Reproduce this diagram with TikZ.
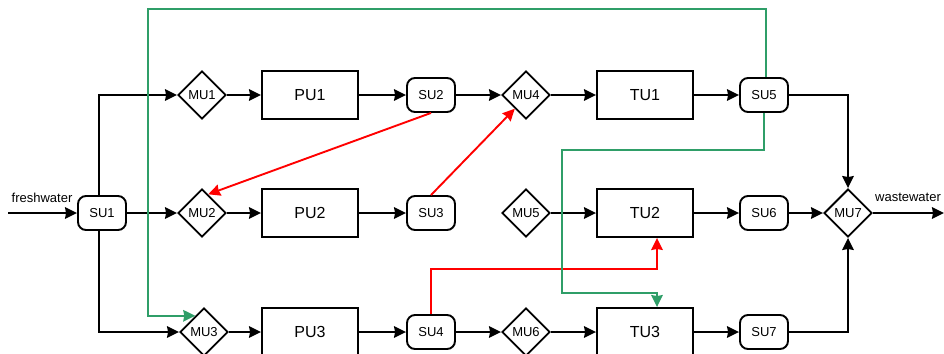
\documentclass[tikz,border=0pt]{standalone}
\usepackage{fontspec}
\setmainfont{Liberation Sans}
\usetikzlibrary{shapes.geometric,arrows.meta,calc}
\definecolor{loopgreen}{RGB}{47,158,104}
\definecolor{reusered}{RGB}{255,0,0}

\begin{document}
\begin{tikzpicture}[x=1pt,y=-1pt,
  flow/.style={line width=1.9pt, -{Stealth[length=12pt,width=11.5pt,inset=1pt]}},
  unitbox/.style={draw, line width=1.9pt, minimum width=96pt, minimum height=48pt,
    inner sep=0pt, font=\fontsize{16}{18}\selectfont},
  splitbox/.style={draw, line width=1.9pt, rounded corners=8pt, minimum width=48pt,
    minimum height=34pt, inner sep=0pt, font=\fontsize{13}{15}\selectfont},
  mixbox/.style={draw, diamond, line width=1.9pt, minimum width=48pt, minimum height=48pt,
    inner sep=0pt, font=\fontsize{13}{15}\selectfont},
  streamlabel/.style={font=\fontsize{13}{15}\selectfont, inner sep=0pt},
  greenflow/.style={flow, draw=loopgreen},
  redflow/.style={flow, draw=reusered},
]
\useasboundingbox (0,0) rectangle (944,353);

% splitters
\node[splitbox] (su1) at (102,213) {SU1};
\node[splitbox] (su2) at (431,95) {SU2};
\node[splitbox] (su3) at (431,213) {SU3};
\node[splitbox] (su4) at (431,332) {SU4};
\node[splitbox] (su5) at (764,95) {SU5};
\node[splitbox] (su6) at (764,213) {SU6};
\node[splitbox] (su7) at (764,332) {SU7};

% mixers
\node[mixbox] (mu1) at (202,95) {MU1};
\node[mixbox] (mu2) at (202,213) {MU2};
\node[mixbox] (mu3) at (204,332) {MU3};
\node[mixbox] (mu4) at (526,95) {MU4};
\node[mixbox] (mu5) at (526,213) {MU5};
\node[mixbox] (mu6) at (526,332) {MU6};
\node[mixbox] (mu7) at (848,213) {MU7};

% process and treatment units
\node[unitbox] (pu1) at (310,95) {PU1};
\node[unitbox] (pu2) at (310,213) {PU2};
\node[unitbox] (pu3) at (310,332) {PU3};
\node[unitbox] (tu1) at (645,95) {TU1};
\node[unitbox] (tu2) at (645,213) {TU2};
\node[unitbox] (tu3) at (645,332) {TU3};

% boundary streams
\coordinate (fw) at (8,213);
\coordinate (ww) at (944,213);
\node[streamlabel] (fwlabel) at (42,198) {freshwater};
\node[streamlabel] (wwlabel) at (908,197) {wastewater};

% bend points of the recycle loops
\coordinate (gtop) at (148,9);
\coordinate (gmid) at (562,150);
\coordinate (gbot) at (562,293);
\coordinate (rbot) at (431,269);

% main flows
\draw[flow] (fw) -- (su1.west);
\draw[flow] ([xshift=-3pt]su1.north) |- (mu1.west);
\draw[flow] (su1.east) -- (mu2.west);
\draw[flow] ([xshift=-3pt]su1.south) |- (mu3.west);

\draw[flow] (mu1.east) -- (pu1.west);
\draw[flow] (pu1.east) -- (su2.west);
\draw[flow] (su2.east) -- (mu4.west);
\draw[flow] (mu4.east) -- (tu1.west);
\draw[flow] (tu1.east) -- (su5.west);
\draw[flow] (su5.east) -| (mu7.north);

\draw[flow] (mu2.east) -- (pu2.west);
\draw[flow] (pu2.east) -- (su3.west);
\draw[flow] (mu5.east) -- (tu2.west);
\draw[flow] (tu2.east) -- (su6.west);
\draw[flow] (su6.east) -- (mu7.west);

\draw[flow] (mu3.east) -- (pu3.west);
\draw[flow] (pu3.east) -- (su4.west);
\draw[flow] (su4.east) -- (mu6.west);
\draw[flow] (mu6.east) -- (tu3.west);
\draw[flow] (tu3.east) -- (su7.west);
\draw[flow] (su7.east) -| (mu7.south);

\draw[flow] (mu7.east) -- (ww);

% reuse streams
\draw[redflow] (su2.south) -- ($(mu2.north)!0.25!(mu2.east)$);
\draw[redflow] (su3.north) -- ($(mu4.south)!0.45!(mu4.west)$);
\draw[redflow] (su4.north) -- (rbot) -| ([xshift=12pt]tu2.south);

% recycle streams
\draw[greenflow] ([xshift=2pt]su5.north) |- (gtop) |- ($(mu3.west)!0.65!(mu3.north)$);
\draw[greenflow] (su5.south) |- (gmid) -- (gbot) -| ([xshift=12pt]tu3.north);
\end{tikzpicture}
\end{document}
